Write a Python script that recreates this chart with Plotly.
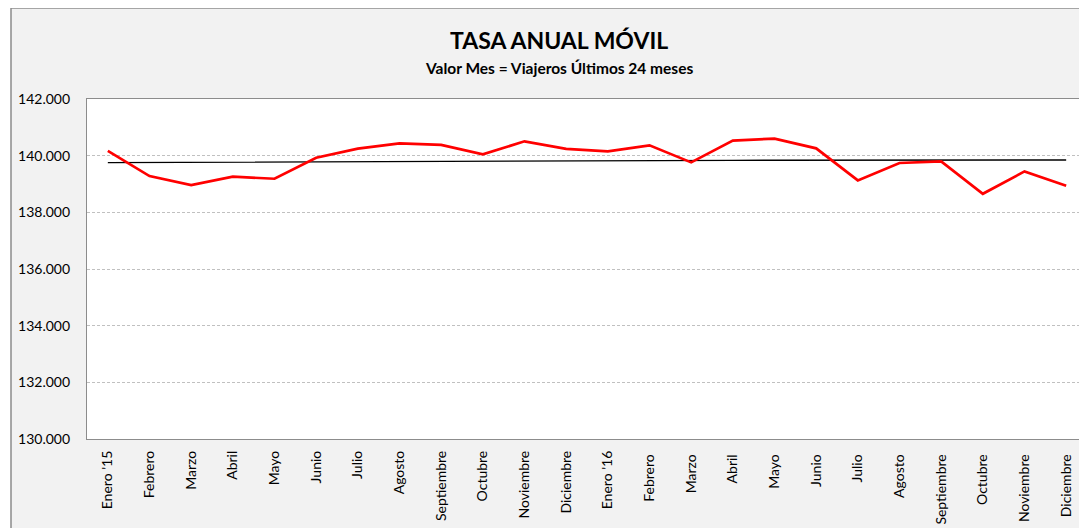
import plotly.graph_objects as go

meses = ["Enero '15", "Febrero", "Marzo", "Abril", "Mayo", "Junio", "Julio", "Agosto",
         "Septiembre", "Octubre", "Noviembre", "Diciembre",
         "Enero '16", "Febrero ", "Marzo ", "Abril ", "Mayo ", "Junio ", "Julio ", "Agosto ",
         "Septiembre ", "Octubre ", "Noviembre ", "Diciembre "]

tasa_anual = [140166, 139281, 138963, 139257, 139186, 139929, 140248, 140435,
              140379, 140046, 140506, 140237, 140152, 140365, 139763, 140531,
              140602, 140258, 139126, 139742, 139798, 138655, 139444, 138938]

media = [139753, 139760, 139768, 139775, 139782, 139790, 139797, 139803,
         139808, 139813, 139818, 139822, 139826, 139829, 139832, 139835,
         139837, 139839, 139841, 139843, 139844, 139845, 139847, 139848]

y_ticks = [130000, 132000, 134000, 136000, 138000, 140000, 142000]

FONT = "Lato, 'Open Sans', sans-serif"

# page offset of the figure (browser body margin)
OFF = 8
# plot area in page pixels: x 87..1087, y 99..439
L, R, T, B = 87 - OFF, 1087 - OFF, 99 - OFF, 439 - OFF
W, H = 1087, 528
def px(x):
    return (x - OFF - L) / (R - L)
def py(y):
    return (B - (y - OFF)) / (B - T)

fig = go.Figure()
fig.add_trace(go.Scatter(x=meses, y=media, mode="lines",
                         line=dict(color="#000000", width=1.4), showlegend=False))
fig.add_trace(go.Scatter(x=meses, y=tasa_anual, mode="lines",
                         line=dict(color="#FF0000", width=2.7), showlegend=False))

shapes = [
    dict(type="rect", xref="paper", yref="paper", layer="below",
         x0=px(11), x1=px(1110), y0=py(570), y1=py(8),
         fillcolor="#F2F2F2", line=dict(color="#8C8C8C", width=1.5)),
    dict(type="rect", xref="paper", yref="paper", layer="below",
         x0=0, x1=1.02, y0=0, y1=1,
         fillcolor="#FFFFFF", line=dict(width=0)),
]

annotations = [
    dict(text="<b>TASA ANUAL MÓVIL</b>", xref="paper", yref="paper",
         x=px(559), y=py(40), showarrow=False, xanchor="center", yanchor="middle",
         font=dict(family=FONT, size=23, color="#000000")),
    dict(text="<b>Valor Mes = Viajeros Últimos 24 meses</b>", xref="paper", yref="paper",
         x=px(559), y=py(68), showarrow=False, xanchor="center", yanchor="middle",
         font=dict(family=FONT, size=15.5, color="#000000")),
]

fig.update_layout(
    width=W, height=H,
    margin=dict(l=L, r=W - R, t=T, b=H - B, pad=0),
    paper_bgcolor="#FFFFFF", plot_bgcolor="#FFFFFF",
    separators=",.",
    shapes=shapes, annotations=annotations,
    font=dict(family=FONT, color="#000000"),
    xaxis=dict(type="category", range=[-0.5, 23.5], showgrid=False, zeroline=False,
               showline=True, linecolor="#8C8C8C", linewidth=1.3, mirror=True,
               ticks="", tickangle=-90, ticklabelstandoff=5,
               tickfont=dict(family=FONT, size=14, color="#000000")),
    yaxis=dict(range=[130000, 142000], tickvals=y_ticks, tickformat=",d",
               showgrid=True, gridcolor="#C0C0C0", gridwidth=1, griddash="3px,2px",
               zeroline=False, showline=True, linecolor="#8C8C8C", linewidth=1.3,
               ticks="", ticklabelstandoff=13,
               tickfont=dict(family=FONT, size=14, color="#000000")),
)

fig.write_html("out.html")
